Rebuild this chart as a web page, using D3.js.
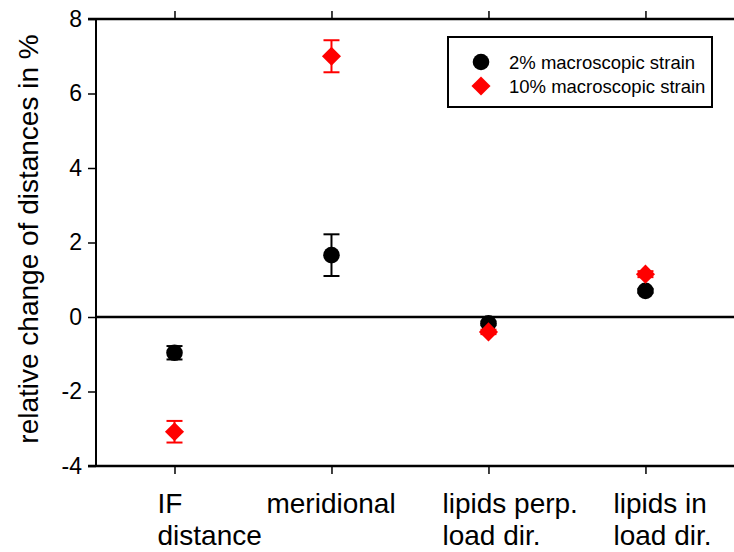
<!DOCTYPE html>
<html><head><meta charset="utf-8">
<script src="https://cdn.jsdelivr.net/npm/d3@7"></script>
<style>body{margin:0;background:#fff}svg{display:block;font-family:Arial,"Liberation Sans",sans-serif}</style>
</head><body><svg id="c" width="734" height="552"></svg>
<script>
const categories = [["IF","distance"],["meridional"],["lipids perp.","load dir."],["lipids in","load dir."]];
const catPos = [1,2,3,4];
const labelOffsets = [-17, -65, -46, -32];
const series2 = [-0.96, 1.66, -0.17, 0.70];
const err2 = [0.18, 0.56, 0.05, 0.05];
const series10 = [-3.08, 7.0, -0.40, 1.15];
const err10 = [0.29, 0.43, 0.06, 0.08];
const yTicks = [-4,-2,0,2,4,6,8];
const legendLabels = ["2% macroscopic strain","10% macroscopic strain"];

const svg = d3.select("#c");
const x = d3.scaleLinear().domain([0.5, 4.564]).range([96, 734]);
const y = d3.scaleLinear().domain([-4, 8]).range([466, 19]);

// y axis
const yAxis = svg.append("g").attr("transform","translate(96,0)")
  .call(d3.axisLeft(y).tickValues(yTicks).tickSize(8).tickPadding(6).tickFormat(d=>d));
yAxis.select(".domain").attr("d", `M0,${y(8)}V${y(-4)}`).attr("stroke-width",2);
yAxis.selectAll(".tick line").attr("stroke-width",1.5);
yAxis.selectAll("text").attr("font-size",23).attr("fill","#000").attr("font-family","Arial, Liberation Sans, sans-serif");

// top axis
const topAxis = svg.append("g").attr("transform",`translate(0,${y(8)})`)
  .call(d3.axisTop(x).tickValues(catPos).tickSize(8).tickFormat(""));
topAxis.select(".domain").attr("d", `M88,0H734`).attr("stroke-width",2.5);
topAxis.selectAll(".tick line").attr("stroke-width",1.5);

// bottom axis
const botAxis = svg.append("g").attr("transform",`translate(0,${y(-4)})`)
  .call(d3.axisBottom(x).tickValues(catPos).tickSize(8).tickFormat(""));
botAxis.select(".domain").attr("d", `M88,0H734`).attr("stroke-width",2.5);
botAxis.selectAll(".tick line").attr("stroke-width",1.5);

// zero line
svg.append("line").attr("x1",x(0.5)).attr("x2",734).attr("y1",y(0)).attr("y2",y(0))
  .attr("stroke","#000").attr("stroke-width",2.5);

// category labels
categories.forEach((lines,i)=>{
  const t = svg.append("text").attr("font-size",28).attr("fill","#000");
  lines.forEach((l,j)=>{
    t.append("tspan").attr("x", x(catPos[i]) + labelOffsets[i]).attr("y", 513 + j*32).text(l);
  });
});

// y title
svg.append("text").attr("transform",`translate(38,239) rotate(-90)`)
  .attr("text-anchor","middle").attr("font-size",28).attr("fill","#000")
  .text("relative change of distances in %");

function errBars(vals, errs, color){
  const g = svg.append("g").attr("stroke",color).attr("stroke-width",2);
  vals.forEach((v,i)=>{
    const cx = x(catPos[i]);
    g.append("line").attr("x1",cx).attr("x2",cx).attr("y1",y(v+errs[i])).attr("y2",y(v-errs[i]));
    g.append("line").attr("x1",cx-8).attr("x2",cx+8).attr("y1",y(v+errs[i])).attr("y2",y(v+errs[i]));
    g.append("line").attr("x1",cx-8).attr("x2",cx+8).attr("y1",y(v-errs[i])).attr("y2",y(v-errs[i]));
  });
}
errBars(series2, err2, "#000");
errBars(series10, err10, "#ff0000");

const circ = d3.symbol().type(d3.symbolCircle).size(Math.PI*8.3*8.3);
const diam = d3.symbol().type(d3.symbolSquare).size(13.5*13.5);

svg.append("g").selectAll("path").data(series2).join("path")
  .attr("d",circ).attr("fill","#000")
  .attr("transform",(d,i)=>`translate(${x(catPos[i])},${y(d)})`);
svg.append("g").selectAll("path").data(series10).join("path")
  .attr("d",diam).attr("fill","#ff0000")
  .attr("transform",(d,i)=>`translate(${x(catPos[i])},${y(d)}) rotate(45)`);

// legend
const lg = svg.append("g");
lg.append("rect").attr("x",448).attr("y",37).attr("width",264).attr("height",70)
  .attr("fill","#fff").attr("stroke","#000").attr("stroke-width",2);
lg.append("path").attr("d",circ).attr("fill","#000").attr("transform","translate(481,62)");
lg.append("path").attr("d",diam).attr("fill","#ff0000").attr("transform","translate(481,86) rotate(45)");
legendLabels.forEach((l,i)=>{
  lg.append("text").attr("x",509).attr("y",62+i*24).attr("dy","0.36em")
    .attr("font-size",18.5).attr("fill","#000").text(l);
});
</script></body></html>
